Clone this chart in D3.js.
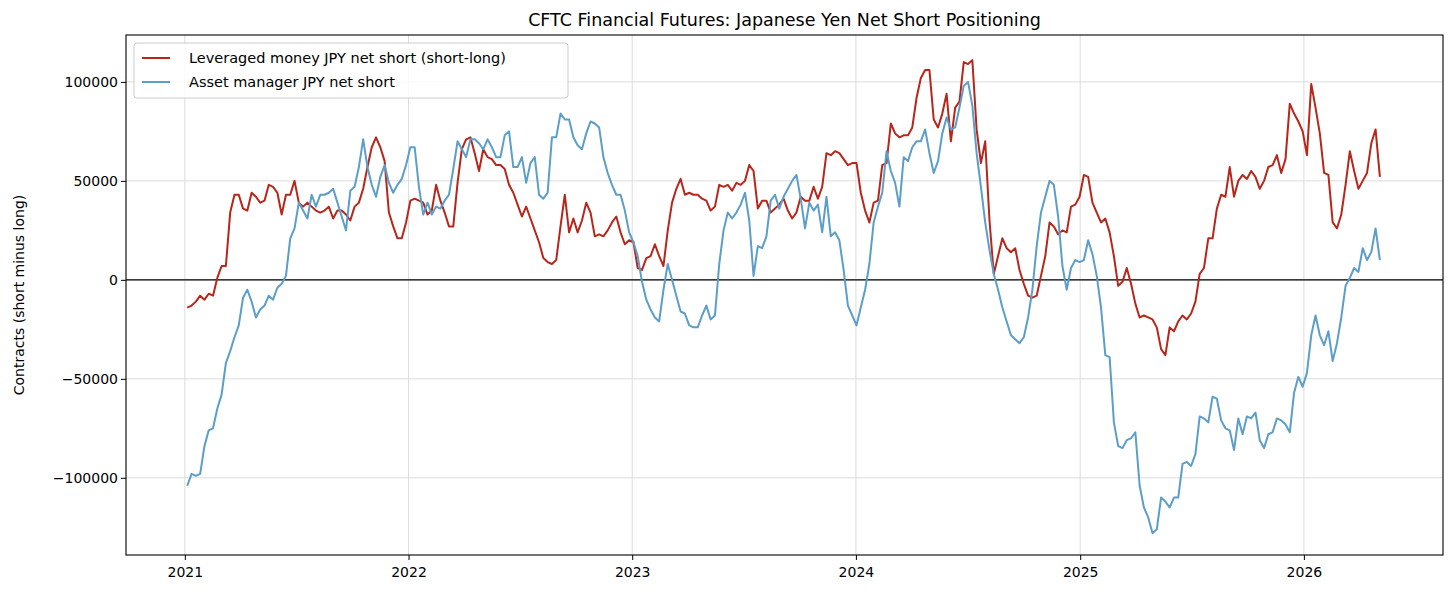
<!DOCTYPE html>
<html>
<head>
<meta charset="utf-8">
<script src="https://cdn.jsdelivr.net/npm/d3@7"></script>
<style>
  body { margin: 0; background: #fff; }
  text { font-family: "DejaVu Sans", sans-serif; }
</style>
</head>
<body>
<svg id="chart" width="1456" height="596"></svg>
<script>
// weekly CFTC report values (thousand contracts), first report 2021-01-05
const firstReport = "2021-01-05";

const lev2021 = [-14,-13,-11,-8,-10,-7,-8,1,7,7, 34,43,43,36,35,44,42,39,40,48, 47,44,33,43,43,50,39,37,39,37,
  35,34,35,37,31,35,35,33,30,37, 39,46,57,67,72,67,60,34,27,21, 21,29];
const lev2022 = [40,41,40,39,33,35,48,40,34,27, 27,49,66,71,72,64,55,66,62,61, 58,58,56,48,44,38,32,37,31,25,
  19,11,9,8,10,27,43,24,31,24, 30,39,34,22,23,22,25,29,32,24, 18,20];
const lev2023 = [19,6,5,11,12,18,12,7,25,39, 46,51,43,44,43,43,41,40,35,37, 48,47,48,45,49,48,50,58,55,36,
  40,40,34,36,38,41,35,31,34,42, 40,40,47,41,47,64,63,65,64,61, 58,59];
const lev2024 = [59,44,35,29,39,40,58,59,79,74, 72,73,73,77,92,102,106,106,81,77, 84,94,70,87,90,110,109,111,76,59,
  70,30,3,12,21,16,14,16,5,-2, -8,-9,-8,2,12,29,27,23,25,24, 37,38];
const lev2025 = [42,53,52,39,34,29,31,24,12,-3, -1,6,-2,-12,-19,-18,-19,-20,-24,-35, -38,-24,-26,-21,-18,-20,-17,-11,3,6,
  21,21,36,43,42,57,42,50,53,51, 55,52,46,50,57,58,63,54,61,89, 84,80];
const lev2026 = [75,63,99,87,74,54,53,29,26,33, 48,65,55,46,50,54,69,76,52];

const am2021 = [-104,-98,-99,-98,-84,-76,-75,-65,-58,-42, -36,-29,-23,-9,-5,-11,-19,-15,-13,-8, -10,-4,-2,2,21,26,39,35,31,43,
  37,43,43,44,46,39,32,25,45,47, 57,71,57,48,42,52,58,49,44,48, 51,58];
const am2022 = [67,67,47,33,39,33,37,36,40,43, 56,70,66,62,71,71,69,66,71,67, 62,62,73,75,57,57,62,49,59,62,
  43,41,44,72,72,84,81,81,72,68, 66,74,80,79,77,62,54,48,43,43, 35,24];
const am2023 = [19,12,-1,-10,-15,-19,-21,-5,8,0, -8,-16,-17,-23,-24,-24,-18,-13,-20,-18, 8,25,34,31,34,38,44,30,2,17,
  16,22,40,43,36,42,46,50,53,41, 26,39,35,38,24,42,22,24,20,5, -13,-18];
const am2024 = [-23,-14,-5,8,29,37,44,65,55,49, 37,62,60,67,70,70,76,64,54,60, 74,82,76,77,87,98,100,88,64,47,
  29,15,3,-5,-14,-21,-28,-30,-32,-29, -19,-5,17,34,42,50,48,32,7,-5, 6,10];
const am2025 = [9,10,20,13,2,-14,-38,-39,-72,-84, -85,-81,-80,-77,-104,-115,-120,-128,-126,-110, -112,-115,-110,-110,-93,-92,-94,-88,-69,-70,
  -72,-59,-60,-71,-75,-76,-86,-70,-78,-69, -70,-67,-81,-85,-78,-77,-70,-71,-73,-77, -57,-49];
const am2026 = [-54,-47,-28,-18,-28,-33,-26,-41,-32,-19, -3,1,6,4,16,10,14,26,10];

const yTicks = [-100000, -50000, 0, 50000, 100000];
const xTicks = [2021, 2022, 2023, 2024, 2025, 2026];

const seriesNames = ["Leveraged money JPY net short (short-long)", "Asset manager JPY net short"];
const seriesColors = ["#b8261a", "#5b9ec9"];

const levValues = [].concat(lev2021, lev2022, lev2023, lev2024, lev2025, lev2026);
const amValues = [].concat(am2021, am2022, am2023, am2024, am2025, am2026);

const start = d3.timeParse("%Y-%m-%d")(firstReport);
const toPoints = vals => vals.map((v, i) => ({ date: d3.timeDay.offset(start, 7 * i), value: v * 1000 }));
const series = [toPoints(levValues), toPoints(amValues)];

const margin = { top: 35, right: 13, bottom: 41, left: 126 };
const width = 1456, height = 596;

const svg = d3.select("#chart");

const x = d3.scaleTime()
  .domain([new Date(2020, 8, 27), new Date(2026, 7, 16)])
  .range([margin.left, width - margin.right]);
const y = d3.scaleLinear()
  .domain([-139000, 123700])
  .range([height - margin.bottom, margin.top]);

// grid
svg.append("g")
  .selectAll("line").data(xTicks).join("line")
  .attr("x1", d => x(new Date(d, 0, 1))).attr("x2", d => x(new Date(d, 0, 1)))
  .attr("y1", margin.top).attr("y2", height - margin.bottom)
  .attr("stroke", "#dcdcdc").attr("stroke-width", 1);
svg.append("g")
  .selectAll("line").data(yTicks).join("line")
  .attr("x1", margin.left).attr("x2", width - margin.right)
  .attr("y1", d => y(d)).attr("y2", d => y(d))
  .attr("stroke", "#dcdcdc").attr("stroke-width", 1);

// zero line
svg.append("line")
  .attr("x1", margin.left).attr("x2", width - margin.right)
  .attr("y1", y(0)).attr("y2", y(0))
  .attr("stroke", "black").attr("stroke-width", 1.1);

// lines
const line = d3.line().x(d => x(d.date)).y(d => y(d.value));
series.forEach((s, i) => {
  svg.append("path")
    .datum(s)
    .attr("d", line)
    .attr("fill", "none")
    .attr("stroke", seriesColors[i])
    .attr("stroke-width", 2)
    .attr("stroke-linejoin", "round");
});

// axes
const fmt = d => (d < 0 ? "\u2212" : "") + Math.abs(d);
svg.append("g")
  .attr("transform", `translate(0,${height - margin.bottom})`)
  .call(d3.axisBottom(x).tickValues(xTicks.map(d => new Date(d, 0, 1))).tickFormat(d3.timeFormat("%Y")).tickSizeOuter(0).tickSize(5))
  .call(g => g.selectAll("text").attr("font-size", 14).attr("fill", "black").attr("dy", "1.0em"));
svg.append("g")
  .attr("transform", `translate(${margin.left},0)`)
  .call(d3.axisLeft(y).tickValues(yTicks).tickFormat(fmt).tickSizeOuter(0).tickSize(5))
  .call(g => g.selectAll("text").attr("font-size", 14).attr("fill", "black"));
svg.selectAll(".domain").remove();

// frame
svg.append("rect")
  .attr("x", margin.left).attr("y", margin.top)
  .attr("width", width - margin.left - margin.right)
  .attr("height", height - margin.top - margin.bottom)
  .attr("fill", "none").attr("stroke", "black").attr("stroke-width", 1.1);

// title & label
svg.append("text")
  .attr("x", (margin.left + width - margin.right) / 2).attr("y", 26)
  .attr("text-anchor", "middle").attr("font-size", 17.5)
  .text("CFTC Financial Futures: Japanese Yen Net Short Positioning");
svg.append("text")
  .attr("transform", `translate(24,${(margin.top + height - margin.bottom) / 2}) rotate(-90)`)
  .attr("text-anchor", "middle").attr("font-size", 14)
  .text("Contracts (short minus long)");

// legend
const lg = svg.append("g").attr("transform", "translate(134,43)");
lg.append("rect").attr("width", 434).attr("height", 55).attr("rx", 3)
  .attr("fill", "white").attr("fill-opacity", 0.85).attr("stroke", "#cccccc");
seriesNames.forEach((n, i) => {
  lg.append("line").attr("x1", 8).attr("x2", 36).attr("y1", 15 + i * 24).attr("y2", 15 + i * 24)
    .attr("stroke", seriesColors[i]).attr("stroke-width", 2);
  lg.append("text").attr("x", 55).attr("y", 20 + i * 24).attr("font-size", 14.5).text(n);
});
</script>
</body>
</html>
